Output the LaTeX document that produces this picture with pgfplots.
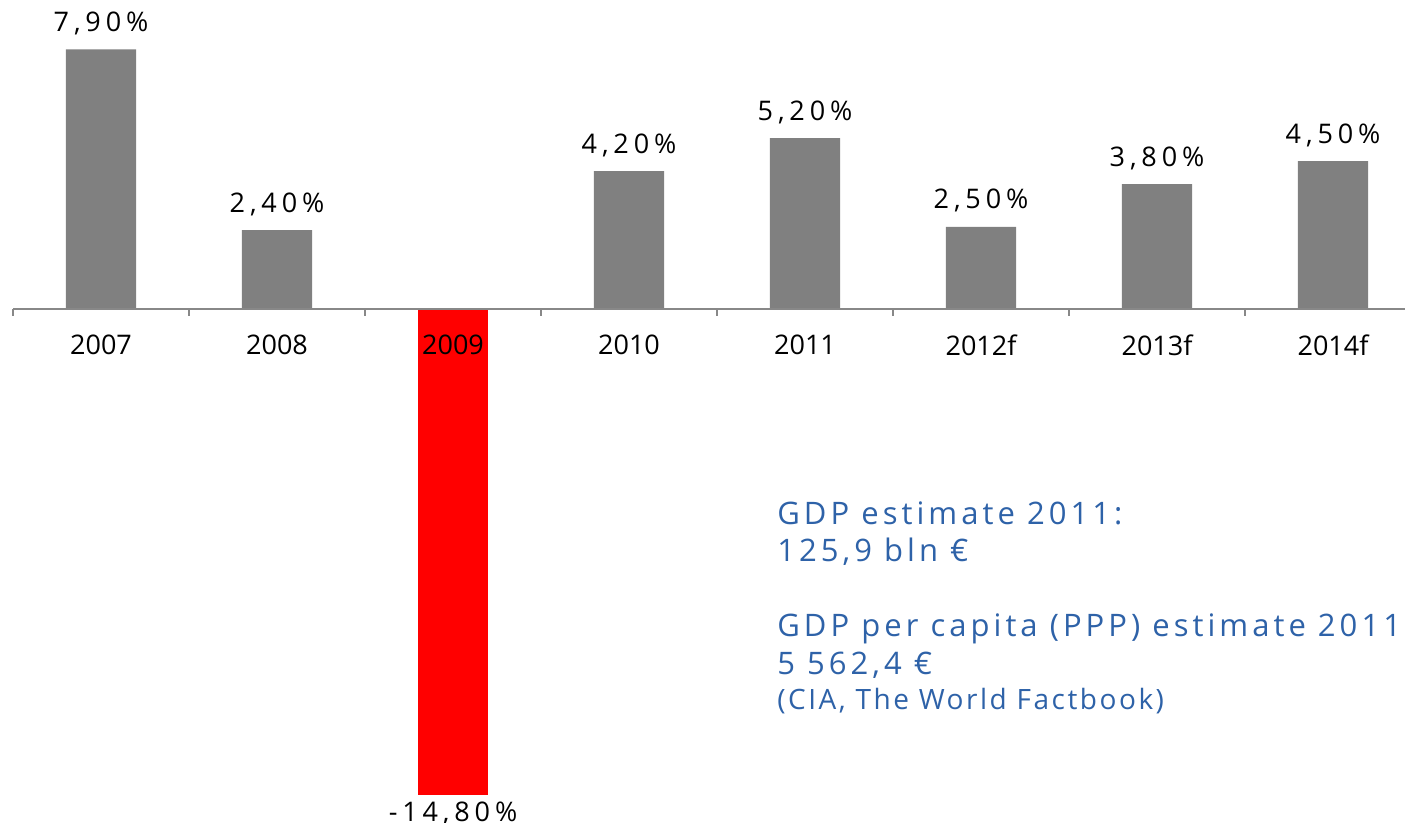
\documentclass[border=0pt]{standalone}
\usepackage{fontspec}
\setmainfont{Open Sans}
\newfontfamily\valuefont[LetterSpace=18]{Open Sans}
\newfontfamily\notefont[LetterSpace=13]{Open Sans}
\newfontfamily\srcfont[LetterSpace=9]{Open Sans}
\usepackage{pgfplots}
\pgfplotsset{compat=1.18}
\definecolor{bargray}{RGB}{128,128,128}
\definecolor{axisgray}{RGB}{136,136,136}
\definecolor{noteblue}{RGB}{46,98,168}

\begin{document}
\begin{tikzpicture}
% picture = 1405 x 823 px, 1 px = 0.5pt
\useasboundingbox (0,0) rectangle (702.5pt,411.5pt);
\clip (0,0) rectangle (702.5pt,411.5pt);
\begin{axis}[
    at={(0,0)}, anchor=south west,
    scale only axis,
    width=702.5pt, height=411.5pt,
    xmin=-0.5739, xmax=7.409,
    ymin=-15.647, ymax=9.406,
    hide axis,
    clip=false,
    ybar, bar width=0.4,
    /pgf/number format/assume math mode=true,
    nodes near coords={\pgfmathprintnumber[fixed,fixed zerofill,precision=2,use comma]{\pgfplotspointmeta}\%},
    every node near coord/.append style={font=\valuefont\fontsize{13.5}{16}\selectfont, text=black, inner sep=7pt},
]
% gray bars
\addplot[bar shift=0pt, fill=bargray, draw=none] coordinates {
    (0,7.9) (1,2.4) (3,4.2) (4,5.2) (5,2.5) (6,3.8) (7,4.5)
};
% 2009 in red
\addplot[bar shift=0pt, fill=red, draw=none,
    every node near coord/.append style={inner sep=3pt}] coordinates {(2,-14.8)};

% category axis line and ticks
\draw[axisgray, line width=1pt] (axis cs:-0.5,0) -- (axis cs:7.5,0);
\draw[axisgray, line width=1pt]
    (axis cs:-0.5,0) -- (axis cs:-0.5,-0.213)
    (axis cs:0.5,0) -- (axis cs:0.5,-0.213)
    (axis cs:1.5,0) -- (axis cs:1.5,-0.213)
    (axis cs:2.5,0) -- (axis cs:2.5,-0.213)
    (axis cs:3.5,0) -- (axis cs:3.5,-0.213)
    (axis cs:4.5,0) -- (axis cs:4.5,-0.213)
    (axis cs:5.5,0) -- (axis cs:5.5,-0.213)
    (axis cs:6.5,0) -- (axis cs:6.5,-0.213)
    (axis cs:7.5,0) -- (axis cs:7.5,-0.213);
\begin{scope}[every node/.style={font=\fontsize{13.5}{16}\selectfont}]
\node at (axis cs:0,-1.1) {2007};
\node at (axis cs:1,-1.1) {2008};
\node at (axis cs:2,-1.1) {2009};
\node at (axis cs:3,-1.1) {2010};
\node at (axis cs:4,-1.1) {2011};
\node at (axis cs:5,-1.1) {2012f};
\node at (axis cs:6,-1.1) {2013f};
\node at (axis cs:7,-1.1) {2014f};
\end{scope}
\end{axis}

% note text
\begin{scope}[every node/.style={anchor=base west, inner sep=0pt, text=noteblue}]
\node[font=\notefont\fontsize{15.5}{18}\selectfont] at (388.5pt,149pt) {GDP estimate 2011:};
\node[font=\notefont\fontsize{15.5}{18}\selectfont] at (388.5pt,130.5pt) {125,9 bln €};
\node[font=\notefont\fontsize{15.5}{18}\selectfont] at (388.5pt,93pt) {GDP per capita (PPP) estimate 2011:};
\node[font=\notefont\fontsize{15.5}{18}\selectfont] at (388.5pt,74pt) {5 562,4 €};
\node[font=\srcfont\fontsize{14}{16}\selectfont] at (388.5pt,56.5pt) {(CIA, The World Factbook)};
\end{scope}
\end{tikzpicture}
\end{document}
